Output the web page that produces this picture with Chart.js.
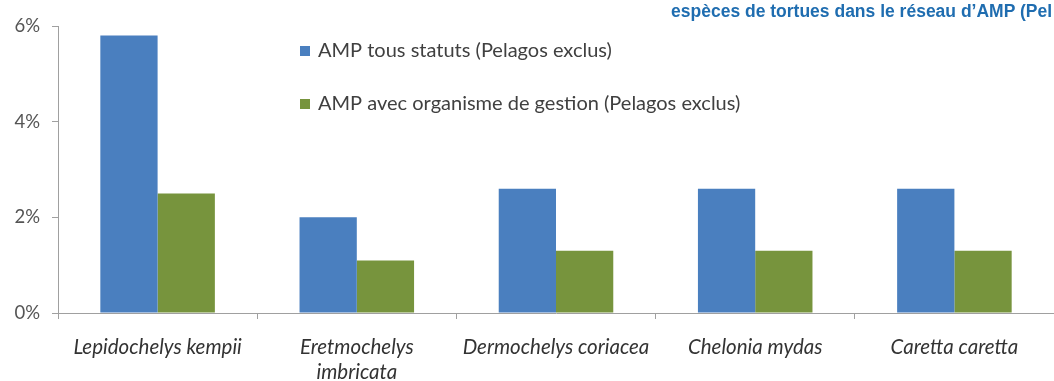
<!DOCTYPE html>
<html>
<head>
<meta charset="utf-8">
<script src="https://cdn.jsdelivr.net/npm/chart.js@4/dist/chart.umd.min.js"></script>
<style>
  html, body { margin: 0; padding: 0; background: #fff; }
  #wrap { position: relative; width: 1054px; height: 381px; overflow: hidden; }
  #title {
    position: absolute; top: 3px; right: 2px; white-space: nowrap; line-height: 1;
    font-family: "Liberation Sans", Arial, sans-serif; font-weight: bold;
    font-size: 17.5px; color: #1f6db0;
  }
  canvas { position: absolute; left: 0; top: 0; }
</style>
</head>
<body>
<div id="wrap">
  <canvas id="c" width="1054" height="381"></canvas>
  <div id="title">espèces de tortues dans le réseau d’AMP (Pel</div>
</div>
<script>
// Species (x categories)
const species = [
  "Lepidochelys kempii",
  ["Eretmochelys", "imbricata"],
  "Dermochelys coriacea",
  "Chelonia mydas",
  "Caretta caretta"
];
// Share of each species' range covered (%)
const allStatus = [5.8, 2.0, 2.6, 2.6, 2.6];
const withManagement = [2.5, 1.1, 1.3, 1.3, 1.3];
const seriesNames = [
  "AMP tous statuts (Pelagos exclus)",
  "AMP avec organisme de gestion (Pelagos exclus)"
];
const yTicks = [0, 2, 4, 6];

const FONT = "Lato, 'Open Sans', sans-serif";

// Legend drawn inside the plot area, stacked vertically
const innerLegend = {
  id: 'innerLegend',
  afterDraw(chart) {
    const ctx = chart.ctx;
    ctx.save();
    ctx.font = "20px " + FONT;
    ctx.textBaseline = 'middle';
    const x0 = 300, y0 = 51, gap = 53;
    chart.data.datasets.forEach((ds, i) => {
      const y = y0 + i * gap;
      ctx.fillStyle = ds.backgroundColor;
      ctx.fillRect(x0, y - 5, 10, 10);
      ctx.fillStyle = '#404040';
      ctx.fillText(ds.label, x0 + 18, y);
    });
    ctx.restore();
  }
};

new Chart(document.getElementById('c'), {
  type: 'bar',
  data: {
    labels: species,
    datasets: [
      { label: seriesNames[0], data: allStatus, backgroundColor: '#4a7fbf' },
      { label: seriesNames[1], data: withManagement, backgroundColor: '#77943d' }
    ]
  },
  options: {
    responsive: false,
    animation: false,
    layout: { padding: { top: 26, right: 0, left: 0, bottom: 0 } },
    plugins: { legend: { display: false }, tooltip: { enabled: false } },
    datasets: { bar: { categoryPercentage: 0.575, barPercentage: 1.0 } },
    scales: {
      x: {
        afterFit(s) { s.height = 68; },
        grid: { display: true, drawOnChartArea: false, offset: true, color: '#a0a0a0', tickLength: 6 },
        border: { color: '#a0a0a0' },
        ticks: { color: '#333', font: { family: FONT, size: 20.5, style: 'italic', lineHeight: 1.22 }, padding: 16, maxRotation: 0, autoSkip: false }
      },
      y: {
        min: 0, max: 6,
        afterFit(s) { s.width = 58; },
        afterBuildTicks(s) { s.ticks = yTicks.map(v => ({ value: v })); },
        grid: { display: true, drawOnChartArea: false, color: '#a0a0a0', tickLength: 6 },
        border: { color: '#a0a0a0' },
        ticks: { color: '#555', font: { family: FONT, size: 18.5 }, padding: 12, callback: v => v + '%' }
      }
    }
  },
  plugins: [innerLegend]
});
</script>
</body>
</html>
